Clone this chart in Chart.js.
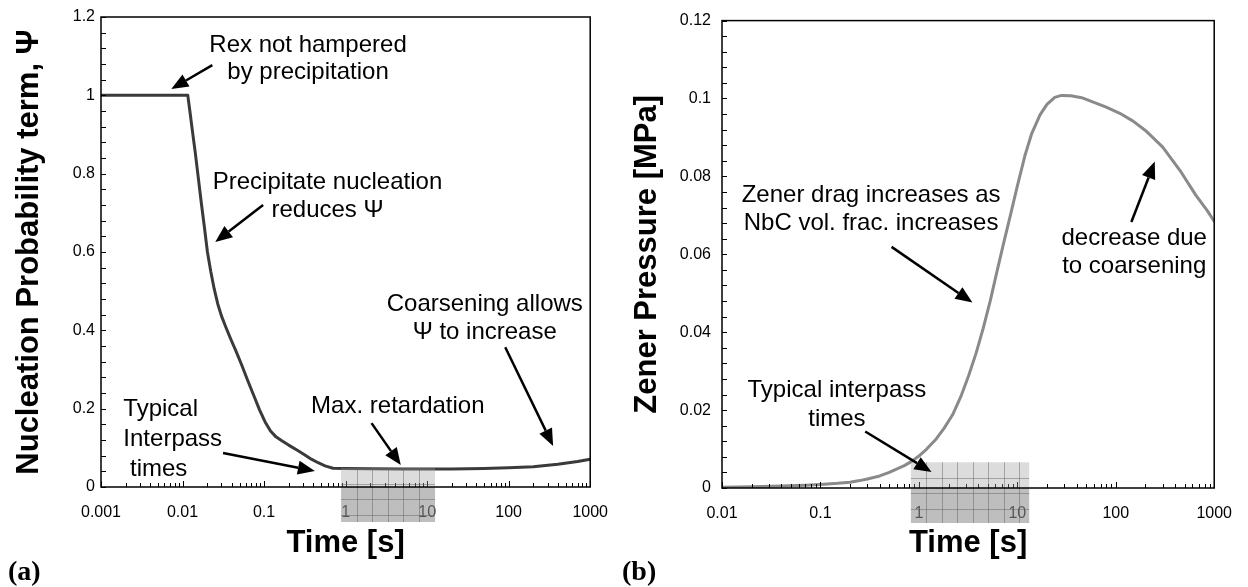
<!DOCTYPE html>
<html>
<head>
<meta charset="utf-8">
<script src="https://cdn.jsdelivr.net/npm/chart.js@4.4.1/dist/chart.umd.min.js"></script>
<style>
  html, body { margin: 0; padding: 0; background: #fff; }
  #wrap { position: relative; width: 1248px; height: 587px; overflow: hidden; background: #fff; }
  .panel { position: absolute; top: 0; width: 624px; height: 587px; }
  #pa { left: 0; }
  #pb { left: 624px; }
  .tag { position: absolute; top: 557px; font: bold 28px "Liberation Serif", "Times New Roman", serif; line-height: 1; color: #000; }
</style>
</head>
<body>
<div id="wrap">
  <div class="panel" id="pa"><canvas id="ca" width="624" height="587"></canvas></div>
  <div class="panel" id="pb"><canvas id="cb" width="624" height="587"></canvas></div>
  <div class="tag" style="left:8px">(a)</div>
  <div class="tag" style="left:622px">(b)</div>
</div>
<script>
// Nucleation probability term (Ψ) against time
const psiTime = [0.001, 0.0116, 0.0123, 0.0132, 0.0143, 0.0156, 0.017, 0.0185, 0.0202, 0.0222,
  0.0245, 0.027, 0.030, 0.034, 0.039, 0.045, 0.053, 0.063, 0.075, 0.088, 0.103, 0.12, 0.14,
  0.165, 0.2, 0.25, 0.31, 0.38, 0.46, 0.56, 0.7, 1, 2, 5, 10, 20, 50, 100, 200, 400, 700, 1000];
const psiValue = [1, 1, 0.96, 0.91, 0.855, 0.79, 0.725, 0.665, 0.60, 0.55,
  0.505, 0.468, 0.437, 0.408, 0.378, 0.348, 0.312, 0.272, 0.233, 0.197, 0.166, 0.143, 0.128,
  0.118, 0.107, 0.095, 0.083, 0.071, 0.062, 0.054, 0.048, 0.0475, 0.0468, 0.0462, 0.046, 0.0462, 0.0472, 0.049, 0.052, 0.058, 0.065, 0.071];

// Zener pinning pressure against time
const zenerTime = [0.01, 0.02, 0.04, 0.07, 0.1, 0.15, 0.2, 0.25, 0.3, 0.4, 0.5, 0.6, 0.72, 0.85,
  1.0, 1.2, 1.5, 1.8, 2.2, 2.7, 3.2, 3.8, 4.5, 5.3, 6.2, 7.2, 8.5, 10, 12, 14, 17, 20, 24, 28,
  35, 45, 60, 80, 110, 150, 200, 300, 450, 650, 850, 1000];
const zenerValue = [0.0002, 0.0003, 0.0005, 0.0007, 0.0009, 0.0012, 0.0015, 0.0019, 0.0023, 0.0031, 0.0040, 0.0049, 0.0058, 0.0069,
  0.0082, 0.0100, 0.0126, 0.0153, 0.0188, 0.0238, 0.0288, 0.0345, 0.041, 0.048, 0.0555, 0.0625, 0.070, 0.0775, 0.0855, 0.091, 0.0958, 0.0985, 0.1003, 0.1008,
  0.1007, 0.1002, 0.099, 0.0978, 0.0962, 0.0942, 0.0918, 0.0875, 0.0815, 0.0752, 0.0712, 0.0685];

// Axis ticks and their labels
const psiTimeTicks = [0.001, 0.01, 0.1, 1, 10, 100, 1000];
const psiTimeTickLabels = ['0.001', '0.01', '0.1', '1', '10', '100', '1000'];
const psiAxisTicks = [0, 0.2, 0.4, 0.6, 0.8, 1, 1.2];
const psiAxisTickLabels = ['0', '0.2', '0.4', '0.6', '0.8', '1', '1.2'];
const zenerTimeTicks = [0.01, 0.1, 1, 10, 100, 1000];
const zenerTimeTickLabels = ['0.01', '0.1', '1', '10', '100', '1000'];
const zenerAxisTicks = [0, 0.02, 0.04, 0.06, 0.08, 0.1, 0.12];
const zenerAxisTickLabels = ['0', '0.02', '0.04', '0.06', '0.08', '0.1', '0.12'];

// Typical interpass time window [s] and the level where its shading starts
const psiInterpass = [0.88, 12.5];
const psiInterpassTop = 0.048;
const zenerInterpass = [0.83, 13.2];
const zenerInterpassTop = 0.0066;

const TICK_FONT = { family: '"Liberation Sans Narrow", "Arial Narrow", Arial, sans-serif', size: 16 };
const TITLE_FONT = { family: '"Liberation Sans", Arial, sans-serif', size: 31, weight: 'bold' };
const NOTE_FONT = '24px "Liberation Sans", Arial, sans-serif';

function logTickList(decades) {
  const out = [];
  decades.forEach((d, i) => {
    out.push({ value: d, major: true });
    if (i < decades.length - 1) for (let k = 2; k <= 9; k++) out.push({ value: d * k, major: false });
  });
  return out;
}
function linearTickList(majors, sub) {
  const out = [];
  majors.forEach((m, i) => {
    out.push({ value: m, major: true });
    if (i < majors.length - 1) {
      const step = (majors[i + 1] - m) / sub;
      for (let k = 1; k < sub; k++) out.push({ value: m + k * step, major: false });
    }
  });
  return out;
}
function labelFor(value, values, labels, log) {
  for (let i = 0; i < values.length; i++) {
    const a = log ? Math.log10(value) : value;
    const b = log ? Math.log10(values[i]) : values[i];
    if (Math.abs(a - b) < 1e-6) return labels[i];
  }
  return '';
}

function drawArrow(ctx, x0, y0, x1, y1) {
  const ang = Math.atan2(y1 - y0, x1 - x0);
  const len = 17, half = 7;
  const bx = x1 - len * Math.cos(ang), by = y1 - len * Math.sin(ang);
  ctx.beginPath();
  ctx.moveTo(x0, y0);
  ctx.lineTo(bx, by);
  ctx.lineWidth = 2.5;
  ctx.strokeStyle = '#000';
  ctx.stroke();
  ctx.beginPath();
  ctx.moveTo(x1, y1);
  ctx.lineTo(bx + half * Math.sin(ang), by - half * Math.cos(ang));
  ctx.lineTo(bx - half * Math.sin(ang), by + half * Math.cos(ang));
  ctx.closePath();
  ctx.fillStyle = '#000';
  ctx.fill();
}

// Inner tick marks, shaded interpass window, plot frame and annotations
const figureMarks = {
  id: 'figureMarks',
  afterDatasetsDraw(chart, args, opts) {
    const ctx = chart.ctx, area = chart.chartArea;
    const xs = chart.scales.x, ys = chart.scales.y;
    ctx.save();

    ctx.strokeStyle = '#000';
    ctx.lineWidth = 1;
    ctx.beginPath();
    xs.ticks.forEach(t => {
      const px = Math.round(xs.getPixelForValue(t.value)) + 0.5;
      ctx.moveTo(px, area.bottom);
      ctx.lineTo(px, area.bottom - (t.major ? 6 : 4));
    });
    ys.ticks.forEach(t => {
      const py = Math.round(ys.getPixelForValue(t.value)) + 0.5;
      ctx.moveTo(area.left, py);
      ctx.lineTo(area.left + 5, py);
    });
    ctx.stroke();

    const bx0 = xs.getPixelForValue(opts.band[0]);
    const bx1 = xs.getPixelForValue(opts.band[1]);
    const by0 = ys.getPixelForValue(opts.bandTop);
    const by1 = area.bottom + 35;
    ctx.fillStyle = 'rgba(160,160,160,0.37)';
    ctx.fillRect(bx0, by0, bx1 - bx0, area.bottom - by0);
    ctx.fillStyle = 'rgba(144,144,144,0.59)';
    ctx.fillRect(bx0, area.bottom, bx1 - bx0, by1 - area.bottom);
    ctx.strokeStyle = 'rgba(90,90,90,0.45)';
    ctx.lineWidth = 1;
    ctx.beginPath();
    for (let x = bx0 + 15.5; x < bx1 - 2; x += 15.5) {
      ctx.moveTo(Math.round(x) + 0.5, by0);
      ctx.lineTo(Math.round(x) + 0.5, by1);
    }
    for (let y = by0 + 15.5; y < by1 - 2; y += 15.5) {
      ctx.moveTo(bx0, Math.round(y) + 0.5);
      ctx.lineTo(bx1, Math.round(y) + 0.5);
    }
    ctx.stroke();

    ctx.strokeStyle = '#000';
    ctx.lineWidth = 1.5;
    ctx.strokeRect(area.left, area.top, area.right - area.left, area.bottom - area.top);

    ctx.fillStyle = '#000';
    ctx.font = NOTE_FONT;
    ctx.textBaseline = 'middle';
    opts.notes.forEach(n => {
      const x = xs.getPixelForValue(n.at[0]);
      const y = ys.getPixelForValue(n.at[1]);
      ctx.textAlign = n.align || 'center';
      n.text.forEach((line, i) => ctx.fillText(line, x, y + i * n.lead));
    });
    opts.arrows.forEach(a => {
      drawArrow(ctx,
        xs.getPixelForValue(a.from[0]), ys.getPixelForValue(a.from[1]),
        xs.getPixelForValue(a.to[0]), ys.getPixelForValue(a.to[1]));
    });
    ctx.restore();
  }
};

function makeChart(id, cfg) {
  return new Chart(document.getElementById(id), {
    type: 'line',
    data: {
      datasets: [{
        data: cfg.times.map((t, i) => ({ x: t, y: cfg.values[i] })),
        borderColor: cfg.color,
        borderWidth: 3,
        pointRadius: 0,
        tension: 0,
        fill: false,
        borderJoinStyle: 'round',
        borderCapStyle: 'round'
      }]
    },
    options: {
      responsive: false,
      devicePixelRatio: 1,
      animation: false,
      events: [],
      layout: { padding: { left: 0, right: cfg.padRight, top: 17, bottom: 0 } },
      plugins: {
        legend: { display: false },
        tooltip: { enabled: false },
        figureMarks: { band: cfg.band, bandTop: cfg.bandTop, notes: cfg.notes, arrows: cfg.arrows }
      },
      scales: {
        x: {
          type: 'logarithmic',
          min: cfg.xTicks[0],
          max: cfg.xTicks[cfg.xTicks.length - 1],
          grid: { display: false, drawTicks: false },
          border: { display: false },
          afterBuildTicks: s => { s.ticks = logTickList(cfg.xTicks); },
          afterFit: s => { s.height = cfg.xHeight; },
          ticks: {
            autoSkip: false, maxRotation: 0, minRotation: 0, padding: 16,
            color: '#000', font: TICK_FONT,
            callback: v => labelFor(v, cfg.xTicks, cfg.xLabels, true)
          },
          title: {
            display: true, text: 'Time [s]', color: '#000', font: TITLE_FONT,
            padding: { top: 0, bottom: 25 }
          }
        },
        y: {
          type: 'linear',
          min: cfg.yTicks[0],
          max: cfg.yTicks[cfg.yTicks.length - 1],
          grid: { display: false, drawTicks: false },
          border: { display: false },
          afterBuildTicks: s => { s.ticks = linearTickList(cfg.yTicks, 5); },
          afterFit: s => { s.width = cfg.yWidth; },
          ticks: {
            autoSkip: false, padding: cfg.yPad,
            color: '#000', font: TICK_FONT,
            callback: v => labelFor(v, cfg.yTicks, cfg.yLabels, false)
          },
          title: {
            display: true, text: cfg.yTitle, color: '#000', font: TITLE_FONT,
            padding: { top: cfg.yTitlePad, bottom: 0 }
          }
        }
      }
    },
    plugins: [figureMarks]
  });
}

makeChart('ca', {
  times: psiTime, values: psiValue, color: '#3a3a3a',
  xTicks: psiTimeTicks, xLabels: psiTimeTickLabels,
  yTicks: psiAxisTicks, yLabels: psiAxisTickLabels,
  yTitle: 'Nucleation Probability term, Ψ',
  yWidth: 101, yPad: 6, yTitlePad: 11, xHeight: 100, padRight: 22,
  band: psiInterpass, bandTop: psiInterpassTop,
  notes: [
    { text: ['Rex not hampered', 'by precipitation'], at: [0.346, 1.128], lead: 27 },
    { text: ['Precipitate nucleation', 'reduces Ψ'], at: [0.6, 0.779], lead: 28 },
    { text: ['Coarsening allows', 'Ψ to increase'], at: [50.9, 0.467], lead: 28 },
    { text: ['Max. retardation'], at: [4.37, 0.207], lead: 28 },
    { text: ['Typical', 'Interpass', ' times'], at: [0.00188, 0.199], lead: 30, align: 'left' }
  ],
  arrows: [
    { from: [0.0232, 1.077], to: [0.00728, 1.016] },
    { from: [0.0973, 0.72], to: [0.0252, 0.6255] },
    { from: [90.8, 0.357], to: [351, 0.105] },
    { from: [2.08, 0.163], to: [4.75, 0.056] },
    { from: [0.0314, 0.0868], to: [0.42, 0.0409] }
  ]
});

makeChart('cb', {
  times: zenerTime, values: zenerValue, color: '#8a8a8a',
  xTicks: zenerTimeTicks, xLabels: zenerTimeTickLabels,
  yTicks: zenerAxisTicks, yLabels: zenerAxisTickLabels,
  yTitle: 'Zener Pressure [MPa]',
  yWidth: 98, yPad: 11, yTitlePad: 5, xHeight: 99, padRight: 21,
  band: zenerInterpass, bandTop: zenerInterpassTop,
  notes: [
    { text: ['Zener drag increases as', 'NbC vol. frac. increases'], at: [0.327, 0.0752], lead: 28 },
    { text: ['decrease due', 'to coarsening'], at: [154, 0.064], lead: 28 },
    { text: ['Typical interpass', 'times'], at: [0.147, 0.025], lead: 29 }
  ],
  arrows: [
    { from: [0.528, 0.0619], to: [3.5, 0.0476] },
    { from: [144, 0.0683], to: [249, 0.0838] },
    { from: [0.285, 0.01452], to: [1.345, 0.0041] }
  ]
});
</script>
</body>
</html>
